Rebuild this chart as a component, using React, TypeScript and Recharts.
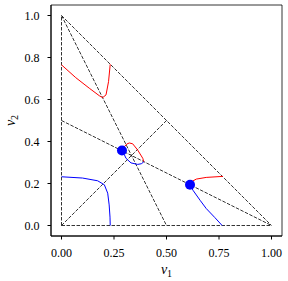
import { ScatterChart, Scatter, XAxis, YAxis, ReferenceLine, ReferenceArea } from "recharts";

const xTicks = [0, 0.25, 0.5, 0.75, 1];
const yTicks = [0, 0.2, 0.4, 0.6, 0.8, 1];

// triangle edges + medians
const segments = [
  [[0, 0], [1, 0]],
  [[0, 0], [0, 1]],
  [[0, 1], [1, 0]],
  [[0, 1], [0.5, 0]],
  [[0, 0.5], [1, 0]],
  [[0, 0], [0.5, 0.5]],
];

const redTop = [
  { x: 0, y: 0.765 }, { x: 0.068, y: 0.704 }, { x: 0.132, y: 0.654 }, { x: 0.18, y: 0.618 },
  { x: 0.196, y: 0.609 }, { x: 0.212, y: 0.622 }, { x: 0.224, y: 0.685 }, { x: 0.232, y: 0.768 },
];
const blueBottom = [
  { x: 0, y: 0.232 }, { x: 0.1, y: 0.226 }, { x: 0.172, y: 0.213 }, { x: 0.204, y: 0.194 },
  { x: 0.22, y: 0.154 }, { x: 0.227, y: 0.098 }, { x: 0.231, y: 0.04 }, { x: 0.232, y: 0 },
];
const redCenter = [
  { x: 0.288, y: 0.357 }, { x: 0.299, y: 0.375 }, { x: 0.311, y: 0.388 }, { x: 0.323, y: 0.393 },
  { x: 0.339, y: 0.389 }, { x: 0.363, y: 0.359 }, { x: 0.387, y: 0.32 }, { x: 0.392, y: 0.303 },
];
const blueCenter = [
  { x: 0.288, y: 0.357 }, { x: 0.299, y: 0.338 }, { x: 0.307, y: 0.32 }, { x: 0.331, y: 0.298 },
  { x: 0.363, y: 0.291 }, { x: 0.38, y: 0.294 }, { x: 0.392, y: 0.303 },
];
const redRight = [
  { x: 0.612, y: 0.194 }, { x: 0.618, y: 0.208 }, { x: 0.642, y: 0.221 }, { x: 0.689, y: 0.229 },
  { x: 0.769, y: 0.234 },
];
const blueRight = [
  { x: 0.612, y: 0.194 }, { x: 0.626, y: 0.168 }, { x: 0.66, y: 0.12 }, { x: 0.689, y: 0.081 },
  { x: 0.73, y: 0.038 }, { x: 0.765, y: 0 },
];
const fixedPoints = [{ x: 0.288, y: 0.357 }, { x: 0.612, y: 0.194 }];

const curves = [
  { data: redTop, color: "#ff0000" },
  { data: blueBottom, color: "#0000ff" },
  { data: redCenter, color: "#ff0000" },
  { data: blueCenter, color: "#0000ff" },
  { data: redRight, color: "#ff0000" },
  { data: blueRight, color: "#0000ff" },
];

const font = "'Liberation Serif', serif";
const tickStyle = { fontSize: 12, fill: "#000", fontFamily: font };

const XLabel = ({ viewBox }: any) => (
  <text x={viewBox.x + viewBox.width / 2} y={274} textAnchor="middle" fontFamily={font} fontSize={14} fontStyle="italic">
    ν<tspan fontSize={10} fontStyle="normal" dy={3}>1</tspan>
  </text>
);

const YLabel = ({ viewBox }: any) => {
  const cx = 15;
  const cy = viewBox.y + viewBox.height / 2;
  return (
    <text x={cx} y={cy} textAnchor="middle" transform={`rotate(-90, ${cx}, ${cy})`} fontFamily={font} fontSize={14} fontStyle="italic">
      ν<tspan fontSize={10} fontStyle="normal" dy={3}>2</tspan>
    </text>
  );
};

const noShape = () => <g />;
const dot = (p: any) => <circle cx={p.cx} cy={p.cy} r={5} fill="#0000ff" />;

export default function App() {
  return (
    <div style={{ position: "fixed", left: 0, top: 0, background: "#fff" }}>
      <ScatterChart width={288} height={281} margin={{ top: 5, right: 6, bottom: 0, left: 0 }}>
        <XAxis
          type="number" dataKey="x" domain={[-0.05, 1.05]} ticks={xTicks} height={45}
          tickFormatter={(v) => v.toFixed(2)} tick={tickStyle} tickSize={3.5} tickMargin={9}
          stroke="#000" allowDataOverflow label={<XLabel />}
        />
        <YAxis
          type="number" dataKey="y" domain={[-0.05, 1.05]} ticks={yTicks} width={51}
          tickFormatter={(v) => v.toFixed(1)} tick={tickStyle} tickSize={3.5} tickMargin={8}
          stroke="#000" allowDataOverflow label={<YLabel />}
        />
        <ReferenceArea x1={-0.05} x2={1.05} y1={-0.05} y2={1.05} fill="none" stroke="#000" strokeWidth={0.8} />
        {segments.map((s, i) => (
          <ReferenceLine
            key={i}
            segment={[{ x: s[0][0], y: s[0][1] }, { x: s[1][0], y: s[1][1] }]}
            stroke="#000" strokeWidth={0.8} strokeDasharray="3.5 1.5"
          />
        ))}
        {curves.map((c, i) => (
          <Scatter
            key={i} data={c.data} fill={c.color} shape={noShape} isAnimationActive={false}
            line={{ stroke: c.color, strokeWidth: 1 }} lineType="joint"
          />
        ))}
        <Scatter data={fixedPoints} fill="#0000ff" shape={dot} isAnimationActive={false} />
      </ScatterChart>
    </div>
  );
}
